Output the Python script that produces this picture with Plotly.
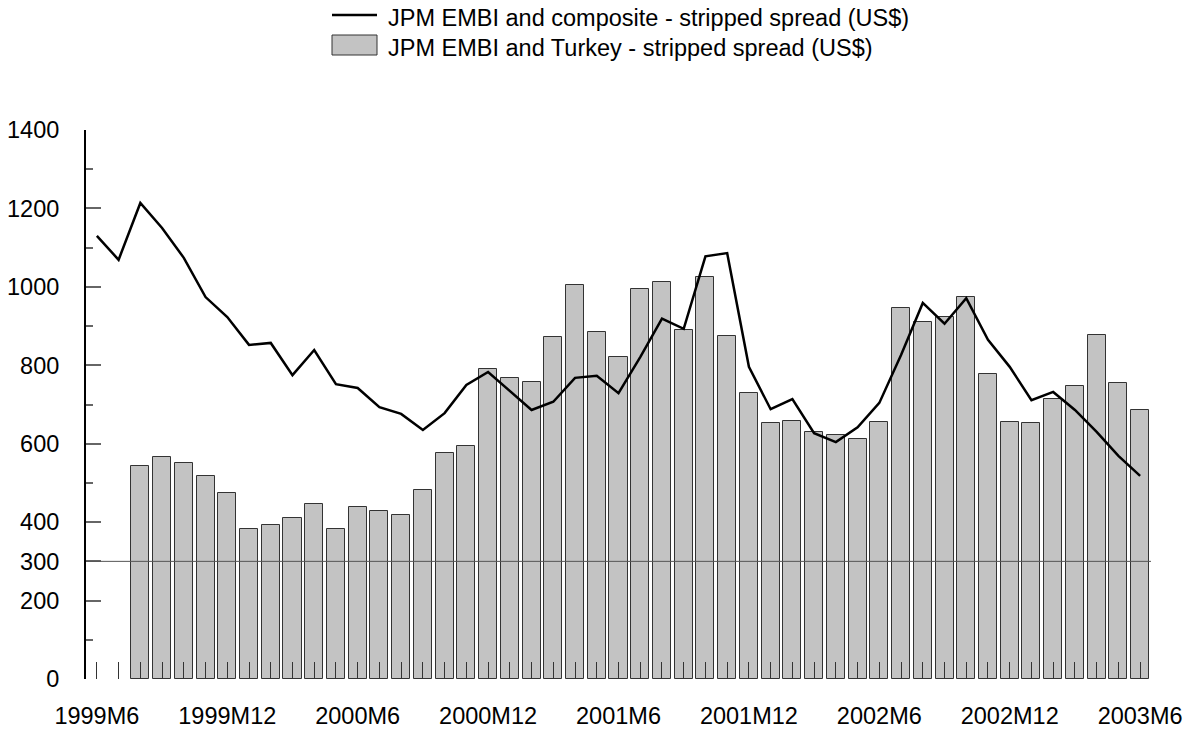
import plotly.graph_objects as go

# Monthly, 1999M6 .. 2003M6
months = []
for y in range(1999, 2004):
    for m in range(1, 13):
        if (y, m) >= (1999, 6) and (y, m) <= (2003, 6):
            months.append(f"{y}M{m}")

# JPM EMBI composite - stripped spread (line, starts 1999M6)
composite = [1130, 1069, 1214, 1150, 1074, 974, 923, 852, 857, 775,
             839, 752, 742, 693, 676, 635, 678, 750, 783, 735,
             686, 707, 768, 773, 729, 821, 919, 893, 1078, 1086,
             796, 688, 714, 627, 604, 642, 704, 826, 959, 906,
             971, 865, 796, 711, 732, 686, 630, 569, 518]

# JPM EMBI Turkey - stripped spread (bars, start 1999M8)
turkey = [543, 566, 551, 518, 474, 383, 393, 411, 446, 383,
          439, 428, 418, 482, 576, 594, 791, 768, 757, 872,
          1005, 885, 821, 995, 1012, 889, 1025, 875, 729, 653,
          658, 630, 622, 612, 655, 946, 910, 923, 975, 778,
          655, 653, 714, 747, 877, 754, 686]

x_line = list(range(len(composite)))
x_bar = list(range(2, 2 + len(turkey)))
tick_text = [m if i % 6 == 0 else "" for i, m in enumerate(months)]

FONT = "Liberation Sans, Arial, sans-serif"
OFF = 8  # page body margin shifts the figure by 8px

fig = go.Figure()
fig.add_trace(go.Bar(
    x=x_bar, y=turkey, width=0.83,
    marker=dict(color="#c3c3c3", line=dict(color="#333333", width=1)),
    name="JPM EMBI and Turkey - stripped spread (US$)",
))
fig.add_trace(go.Scatter(
    x=x_line, y=composite, mode="lines",
    line=dict(color="black", width=2.5),
    name="JPM EMBI and composite - stripped spread (US$)",
))

# plot area in pixels (screen coords), used to place the hand-made legend
L, R, T, B = 86, 1151, 130, 679
px = lambda v: (v - L) / (R - L)
py = lambda v: (B - v) / (B - T)

fig.add_shape(type="line", xref="x", yref="y", x0=-0.5, x1=len(months) - 0.5,
              y0=300, y1=300, line=dict(color="#555555", width=1), layer="above")
fig.add_shape(type="line", xref="paper", yref="paper", x0=px(332), x1=px(377),
              y0=py(15), y1=py(15), line=dict(color="black", width=2.5))
fig.add_shape(type="rect", xref="paper", yref="paper", x0=px(332), x1=px(377),
              y0=py(55), y1=py(35), fillcolor="#c3c3c3",
              line=dict(color="#333333", width=1))
fig.add_annotation(xref="paper", yref="paper", x=px(386), y=py(18), xanchor="left",
                   yanchor="middle", showarrow=False,
                   text="JPM EMBI and composite - stripped spread (US$)")
fig.add_annotation(xref="paper", yref="paper", x=px(386), y=py(48), xanchor="left",
                   yanchor="middle", showarrow=False,
                   text="JPM EMBI and Turkey - stripped spread (US$)")

fig.update_layout(
    width=1195 - OFF, height=734 - OFF,
    margin=dict(l=L - OFF, r=1195 - R, t=T - OFF, b=734 - B, autoexpand=False),
    plot_bgcolor="white", paper_bgcolor="white",
    showlegend=False, bargap=0,
    font=dict(family=FONT, size=23.5, color="black"),
)
fig.update_xaxes(
    range=[-0.5, len(months) - 0.5], automargin=False,
    tickmode="array", tickvals=x_line, ticktext=tick_text,
    ticks="inside", ticklen=17, tickwidth=1, tickcolor="#333333",
    showline=False, showgrid=False, zeroline=False, ticklabelstandoff=20,
)
fig.update_yaxes(
    range=[0, 1400], automargin=False,
    tickmode="array", tickvals=[0, 200, 300, 400, 600, 800, 1000, 1200, 1400],
    ticks="inside", ticklen=15, tickwidth=2, tickcolor="#666666",
    minor=dict(tickvals=[100, 500, 700, 900, 1100, 1300], ticks="inside",
               ticklen=7, tickwidth=2, tickcolor="#666666"),
    showline=True, linecolor="black", linewidth=2,
    showgrid=False, zeroline=False, ticklabelstandoff=20,
)

fig.write_html("out.html")
